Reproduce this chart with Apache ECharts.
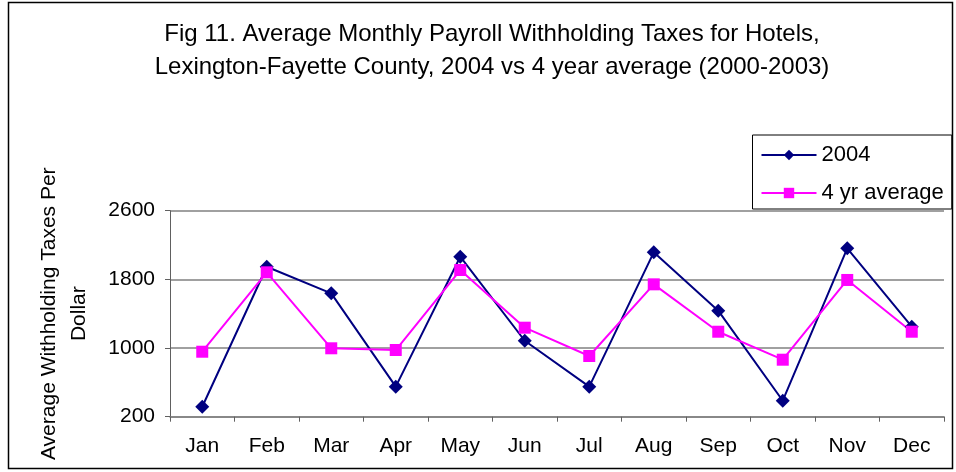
<!DOCTYPE html>
<html>
<head>
<meta charset="utf-8">
<script src="https://cdn.jsdelivr.net/npm/echarts@6/dist/echarts.min.js"></script>
<style>
  html, body { margin: 0; padding: 0; background: #fff; }
  #chart { width: 956px; height: 472px; }
</style>
</head>
<body>
<div id="chart"></div>
<script>
var months = ['Jan','Feb','Mar','Apr','May','Jun','Jul','Aug','Sep','Oct','Nov','Dec'];
var taxes2004 = [316, 1947, 1637, 550, 2064, 1085, 550, 2115, 1435, 386, 2162, 1249];
var avg4yr = [957, 1882, 997, 977, 1909, 1237, 907, 1742, 1190, 864, 1793, 1190];
var yTicks = [200, 1000, 1800, 2600];

var font = '"Liberation Sans", Arial, sans-serif';

var myChart = echarts.init(document.getElementById('chart'));

var option = {
	animation: false,
	backgroundColor: '#fff',
	textStyle: { fontFamily: font, color: '#000' },
	//标题
	title: {
		text: 'Fig 11. Average Monthly Payroll Withholding Taxes for Hotels,\nLexington-Fayette County, 2004 vs 4 year average (2000-2003)',
		left: 487,
		top: 13,
		textAlign: 'center',
		textStyle: { fontFamily: font, fontSize: 24, fontWeight: 'normal', color: '#000', lineHeight: 33 }
	},
	legend: {
		orient: 'vertical',
		left: 752.5,
		top: 135,
		padding: [9, 8, 5, 8],
		itemGap: 16,
		itemWidth: 55,
		itemHeight: 13,
		borderColor: '#000',
		borderWidth: 1,
		textStyle: { fontFamily: font, fontSize: 22, color: '#000' },
		data: ['2004', '4 yr average']
	},
	grid: { left: 170, right: 12, top: 210.7, bottom: 55.3, containLabel: false },
	xAxis: {
		type: 'category',
		data: months,
		boundaryGap: true,
		axisLine: { lineStyle: { color: '#808080', width: 1.5 } },
		axisTick: { show: true, length: 5, lineStyle: { color: '#606060' } },
		axisLabel: { fontFamily: font, fontSize: 21, color: '#000', margin: 19 }
	},
	yAxis: {
		type: 'value',
		min: yTicks[0],
		max: yTicks[yTicks.length - 1],
		interval: 800,
		name: 'Average Withholding Taxes Per\nDollar',
		nameLocation: 'middle',
		nameRotate: 90,
		nameGap: 76,
		nameTextStyle: { fontFamily: font, fontSize: 21, color: '#000', lineHeight: 30 },
		axisLine: { show: true, lineStyle: { color: '#606060', width: 1 } },
		axisTick: { show: true, length: 5, lineStyle: { color: '#606060' } },
		axisLabel: {
			fontFamily: font, fontSize: 21, color: '#000', margin: 15,
			formatter: function(v){ return String(v); }
		},
		splitLine: { show: true, lineStyle: { color: '#808080', width: 1.5 } }
	},
	graphic: [{
		type: 'rect',
		shape: { x: 8.5, y: 2.5, width: 944, height: 466 },
		style: { fill: null, stroke: '#000', lineWidth: 1.5 },
		silent: true,
		z: 100
	}],
	series: [{
		name: '2004',
		type: 'line',
		data: taxes2004,
		symbol: 'diamond',
		symbolSize: 14,
		color: '#000080',
		lineStyle: { width: 2, color: '#000080' },
		itemStyle: { color: '#000080' }
	}, {
		name: '4 yr average',
		type: 'line',
		data: avg4yr,
		symbol: 'rect',
		symbolSize: 12,
		color: '#ff00ff',
		lineStyle: { width: 2, color: '#ff00ff' },
		itemStyle: { color: '#ff00ff' }
	}]
};

myChart.setOption(option);
</script>
</body>
</html>
